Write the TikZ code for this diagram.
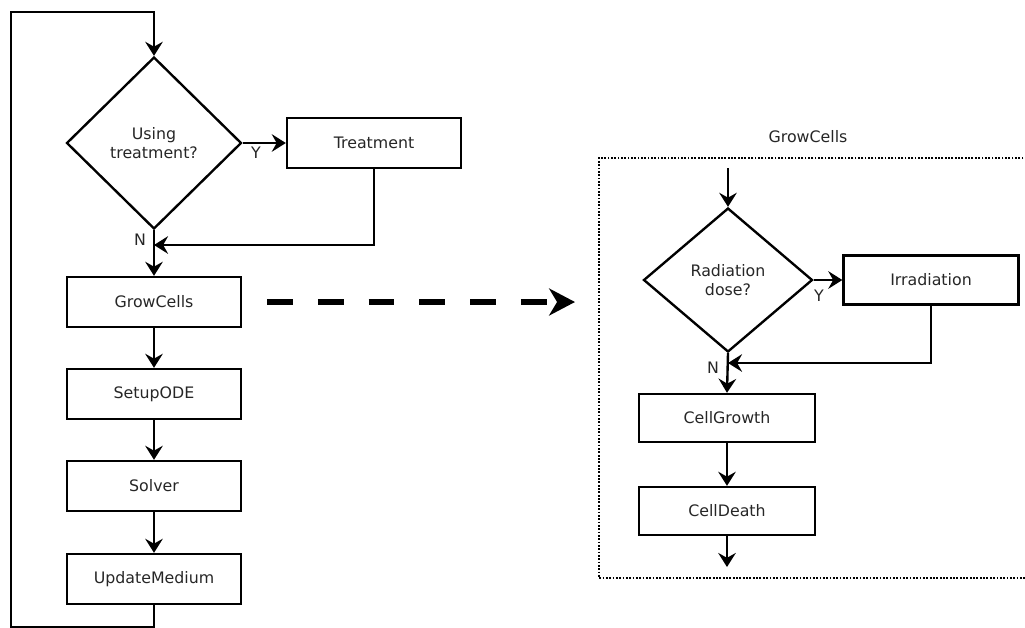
\documentclass[tikz,border=0pt]{standalone}
\usepackage{fontspec}
\setmainfont{DejaVu Sans}
\usetikzlibrary{shapes.geometric,arrows.meta}
\tikzset{
  arr/.style={-{Stealth[length=8pt,width=10pt,inset=2.8pt]}},
  dasharr/.style={-{Stealth[length=14.7pt,width=15.3pt,inset=4.5pt]},line width=3pt,dash pattern=on 14.7pt off 14.2pt},
  stepbox/.style={draw,line width=1.35pt,minimum width=3.48cm,minimum height=1cm,inner sep=0pt},
  ask/.style={draw,diamond,line width=1.35pt,inner sep=0pt,align=center},
  lbl/.style={inner sep=0pt}
}
\begin{document}
\begin{tikzpicture}[x=0.02cm,y=-0.02cm,line width=1.35pt,font=\fontsize{9}{11}\selectfont,text=black!85]
\useasboundingbox (0,0) rectangle (1025,627);
% main loop
\node[ask,minimum width=3.5cm,minimum height=3.44cm] (q1) at (154,143) {Using\\treatment?};
\node[stepbox] (treat) at (374,143) {Treatment};
\node[stepbox] (grow) at (154,302) {GrowCells};
\node[stepbox] (ode) at (154,394) {SetupODE};
\node[stepbox] (solve) at (154,486) {Solver};
\node[stepbox] (upd) at (154,579) {UpdateMedium};
\node[lbl] (y1) at (256,153) {Y};
\node[lbl] (n1) at (140,240) {N};
\coordinate (join1) at (154,245);
\coordinate (loopbl) at (11,627);
\coordinate (looptl) at (11,12);
\draw[arr] (upd.south) |- (loopbl) -- (looptl) -| (q1.north);
\draw[arr] (q1.east) -- (treat.west);
\draw[arr] (treat.south) |- (join1);
\draw[arr] (q1.south) -- (grow.north);
\draw[arr] (grow) -- (ode);
\draw[arr] (ode) -- (solve);
\draw[arr] (solve) -- (upd);
% zoom into GrowCells
\coordinate (dstart) at (267,302);
\coordinate (dend) at (575,302);
\draw[dasharr] (dstart) -- (dend);
\draw[line width=1.1pt,dash pattern=on 1pt off 0.9pt] (1040,158) -- (599,158) -- (599,578) -- (1040,578);
\node[lbl] (title) at (808,137) {GrowCells};
\node[ask,minimum width=3.38cm,minimum height=2.88cm] (q2) at (728,280) {Radiation\\dose?};
\node[stepbox,minimum width=3.5cm,minimum height=0.98cm] (irr) at (931,280) {Irradiation};
\node[stepbox,minimum width=3.52cm,minimum height=0.96cm] (cgrow) at (727,418) {CellGrowth};
\node[stepbox,minimum width=3.52cm,minimum height=0.96cm] (cdeath) at (727,511) {CellDeath};
\node[lbl] (y2) at (819,296) {Y};
\node[lbl] (n2) at (713,368) {N};
\coordinate (in2) at (728,168);
\coordinate (join2) at (728,363);
\coordinate (out2) at (727,567);
\draw[arr] (in2) -- (q2.north);
\draw[arr] (q2.east) -- (irr.west);
\draw[arr] (irr.south) |- (join2);
\draw[arr] (q2.south) -- (cgrow.north);
\draw[arr] (cgrow) -- (cdeath);
\draw[arr] (cdeath) -- (out2);
\end{tikzpicture}
\end{document}
